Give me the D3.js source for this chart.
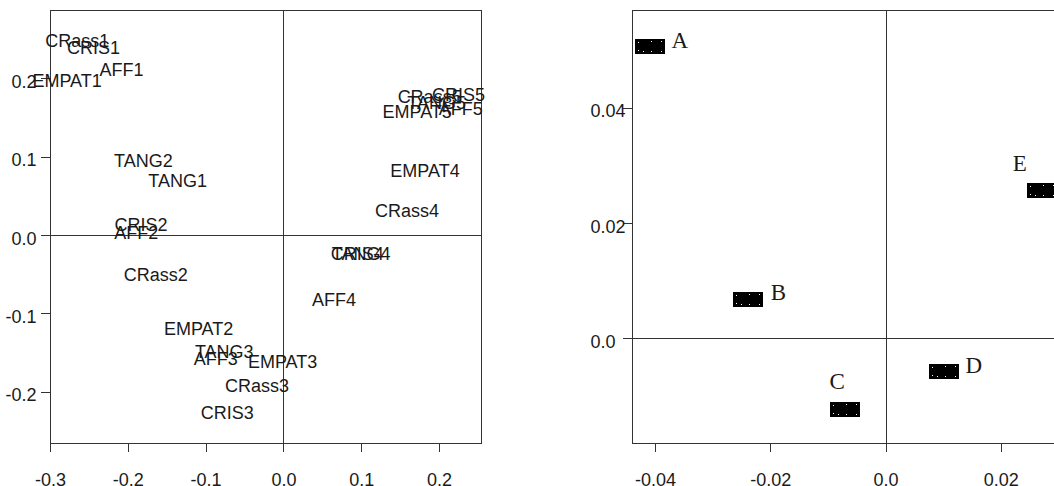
<!DOCTYPE html>
<html>
<head>
<meta charset="utf-8">
<script src="https://cdn.jsdelivr.net/npm/d3@7"></script>
<style>
  html, body { margin: 0; padding: 0; background: #fff; overflow: hidden; }
  svg { display: block; }
  text { fill: #1a1a1a; }
</style>
</head>
<body>
<svg id="chart" width="1054" height="486"></svg>
<script>
// ---- Left map: item coordinates (dimension 1, dimension 2) ----
const itemLabels = [
  "CRass1", "CRIS1", "AFF1", "EMPAT1",
  "TANG2", "TANG1", "CRIS2", "AFF2", "CRass2",
  "EMPAT2", "TANG3", "AFF3", "EMPAT3", "CRass3", "CRIS3",
  "EMPAT4", "CRass4", "CRIS4", "TANG4", "AFF4",
  "CRass5", "CRIS5", "TANG5", "AFF5", "EMPAT5"
];
const itemDim1 = [
  -0.265, -0.244, -0.208, -0.278,
  -0.180, -0.136, -0.183, -0.189, -0.164,
  -0.109, -0.076, -0.087, -0.001, -0.034, -0.072,
  0.182, 0.159, 0.095, 0.100, 0.065,
  0.188, 0.225, 0.197, 0.228, 0.172
];
const itemDim2 = [
  0.248, 0.240, 0.211, 0.197,
  0.095, 0.070, 0.013, 0.003, -0.050,
  -0.119, -0.149, -0.158, -0.161, -0.192, -0.227,
  0.082, 0.031, -0.024, -0.024, -0.082,
  0.177, 0.179, 0.169, 0.162, 0.158
];

// ---- Right map: group coordinates ----
const groupLabels = ["A", "B", "C", "D", "E"];
const groupDim1 = [-0.0409, -0.0238, -0.0070, 0.0101, 0.0271];
const groupDim2 = [0.0506, 0.0068, -0.0123, -0.0058, 0.0257];
const groupLabelSide = ["right", "right", "above", "right", "aboveLeft"];

// ---- Tick values and labels ----
const leftXTicks = [-0.3, -0.2, -0.1, 0, 0.1, 0.2];
const leftXTickLabels = ["-0.3", "-0.2", "-0.1", "0.0", "0.1", "0.2"];
const leftYTicks = [-0.2, -0.1, 0, 0.1, 0.2];
const leftYTickLabels = ["-0.2", "-0.1", "0.0", "0.1", "0.2"];
const rightXTicks = [-0.04, -0.02, 0, 0.02];
const rightXTickLabels = ["-0.04", "-0.02", "0.0", "0.02"];
const rightYTicks = [0, 0.02, 0.04];
const rightYTickLabels = ["0.0", "0.02", "0.04"];

const svg = d3.select("#chart");
const lineColor = "#333";
const sansFont = "'Liberation Sans', Arial, sans-serif";
const serifFont = "'Liberation Serif', 'Times New Roman', serif";

function panel(opts) {
  const { x, y } = opts;
  const g = svg.append("g");
  const [x0, x1] = x.range();
  const [y0, y1] = y.range(); // y0 bottom, y1 top

  // axes
  const xAxis = d3.axisBottom(x)
    .tickValues(opts.xTicks)
    .tickFormat((d, i) => opts.xTickLabels[i])
    .tickSizeInner(8).tickSizeOuter(0);
  const gx = g.append("g").attr("transform", `translate(0,${y0 + 0.5})`).call(xAxis);
  gx.select(".domain").remove();
  gx.selectAll(".tick line").attr("stroke", lineColor).attr("shape-rendering", "crispEdges");
  gx.selectAll(".tick text")
    .attr("y", 42).attr("dy", 0)
    .attr("font-family", sansFont).attr("font-size", 18).attr("fill", "#1a1a1a");

  const yAxis = d3.axisLeft(y)
    .tickValues(opts.yTicks)
    .tickFormat((d, i) => opts.yTickLabels[i])
    .tickSizeInner(10).tickSizeOuter(0);
  const gy = g.append("g").attr("transform", `translate(${x0 + 0.5},0)`).call(yAxis);
  gy.select(".domain").remove();
  gy.selectAll(".tick line").attr("stroke", lineColor).attr("shape-rendering", "crispEdges");
  gy.selectAll(".tick text")
    .attr("x", opts.yLabelX).attr("dy", 9)
    .attr("text-anchor", opts.yLabelAnchor)
    .attr("font-family", sansFont).attr("font-size", 18).attr("fill", "#1a1a1a");

  // frame
  g.append("rect")
    .attr("x", x0 + 0.5).attr("y", y1 + 0.5)
    .attr("width", x1 - x0).attr("height", y0 - y1)
    .attr("fill", "none").attr("stroke", lineColor).attr("stroke-width", 1)
    .attr("shape-rendering", "crispEdges");

  // zero reference lines
  g.append("line")
    .attr("x1", Math.round(x(0)) + 0.5).attr("x2", Math.round(x(0)) + 0.5)
    .attr("y1", y1).attr("y2", y0)
    .attr("stroke", lineColor).attr("shape-rendering", "crispEdges");
  g.append("line")
    .attr("x1", x0).attr("x2", x1)
    .attr("y1", Math.round(y(0)) + 0.5).attr("y2", Math.round(y(0)) + 0.5)
    .attr("stroke", lineColor).attr("shape-rendering", "crispEdges");
  return g;
}

// ---- Left panel ----
const xL = d3.scaleLinear().domain([-0.3, 0.254]).range([50, 481]);
const yL = d3.scaleLinear().domain([-0.2656, 0.2874]).range([443, 10]);
const gL = panel({
  x: xL, y: yL,
  xTicks: leftXTicks, xTickLabels: leftXTickLabels,
  yTicks: leftYTicks, yTickLabels: leftYTickLabels,
  yLabelX: -14, yLabelAnchor: "end"
});

const items = itemLabels.map((name, i) => ({ name, d1: itemDim1[i], d2: itemDim2[i] }));
gL.append("g").selectAll("text")
  .data(items)
  .join("text")
  .attr("x", d => xL(d.d1))
  .attr("y", d => yL(d.d2))
  .attr("dy", 6.5)
  .attr("text-anchor", "middle")
  .attr("font-family", sansFont)
  .attr("font-size", 18)
  .text(d => d.name);

// ---- Right panel ----
const xR = d3.scaleLinear().domain([-0.0440, 0.0308]).range([632, 1063]);
const yR = d3.scaleLinear().domain([-0.0182, 0.0570]).range([443, 10]);
const gR = panel({
  x: xR, y: yR,
  xTicks: rightXTicks, xTickLabels: rightXTickLabels,
  yTicks: rightYTicks, yTickLabels: rightYTickLabels,
  yLabelX: -42, yLabelAnchor: "start"
});

const groups = groupLabels.map((name, i) => ({
  name, d1: groupDim1[i], d2: groupDim2[i], side: groupLabelSide[i]
}));
const markW = 30, markH = 15;
// speckle pattern inside each block marker
const speckles = [[3, 3], [16, 2], [26, 2], [3, 11], [8, 12], [16, 12], [26, 12]];
const labelOffset = {
  right: [30, -7],
  above: [-8, -28],
  aboveLeft: [-22, -27]
};

const marks = gR.append("g").selectAll("g")
  .data(groups)
  .join("g")
  .attr("transform", d => `translate(${Math.round(xR(d.d1) - markW / 2)},${Math.round(yR(d.d2) - markH / 2)})`);
marks.append("rect")
  .attr("width", markW).attr("height", markH)
  .attr("fill", "#000").attr("shape-rendering", "crispEdges");
marks.selectAll("rect.speck")
  .data(speckles)
  .join("rect")
  .attr("class", "speck")
  .attr("x", s => s[0]).attr("y", s => s[1])
  .attr("width", 1).attr("height", 1)
  .attr("fill", "#fff").attr("shape-rendering", "crispEdges");

gR.append("g").selectAll("text")
  .data(groups)
  .join("text")
  .attr("x", d => xR(d.d1) + labelOffset[d.side][0])
  .attr("y", d => yR(d.d2) + labelOffset[d.side][1])
  .attr("dy", 8)
  .attr("text-anchor", "middle")
  .attr("font-family", serifFont)
  .attr("font-size", 23)
  .text(d => d.name);
</script>
</body>
</html>
